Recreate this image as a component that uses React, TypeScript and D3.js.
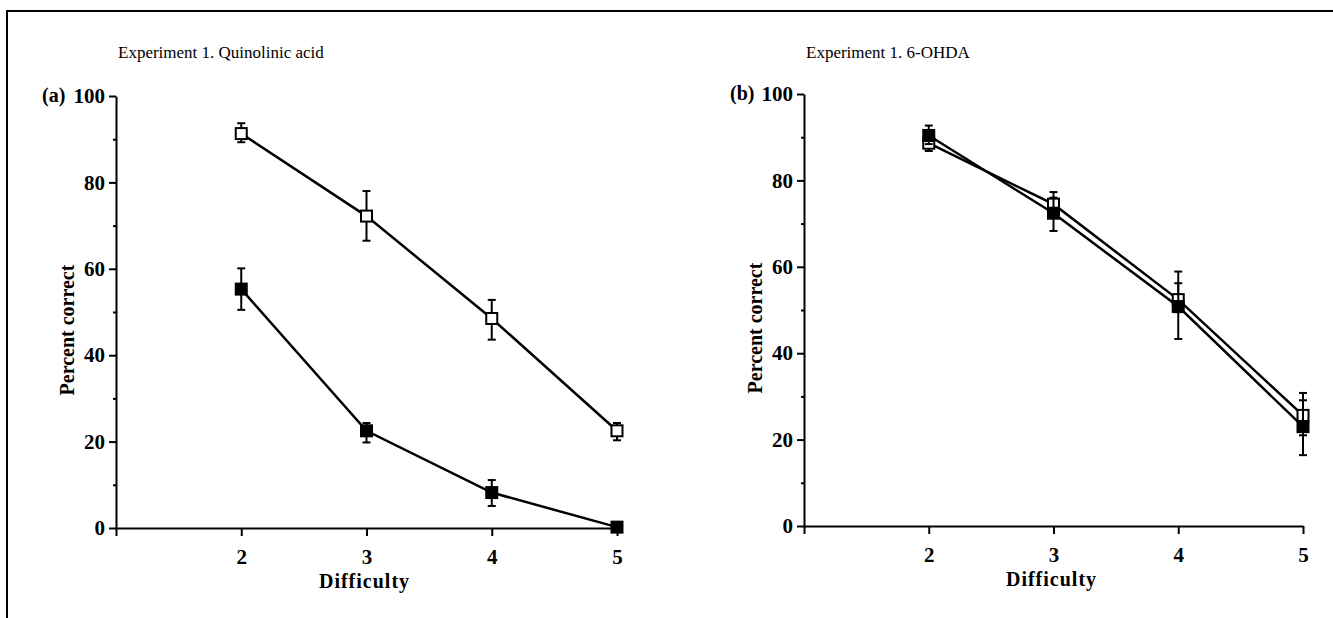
// react
import React, { Component } from 'react';
// d3
import * as d3 from 'd3';

const svgWidth = 1333;
const svgHeight = 618;

const FONT = "'Liberation Serif', 'Times New Roman', serif";

// x: difficulty level, y: percent correct
const DIFFICULTY = [2, 3, 4, 5];
const X_TICKS = [1, 2, 3, 4, 5];
const Y_MAJOR = [0, 20, 40, 60, 80, 100];
const Y_MINOR = [10, 30, 50, 70, 90];

// (a) Quinolinic acid
const qaOpenMean = [91.3, 72.2, 48.5, 22.5];
const qaOpenLow = [89.3, 66.5, 43.6, 20.3];
const qaOpenHigh = [93.7, 78.0, 52.8, 24.3];
const qaFilledMean = [55.3, 22.5, 8.2, 0.2];
const qaFilledLow = [50.5, 19.8, 5.1, 0.2];
const qaFilledHigh = [60.1, 24.3, 11.1, 0.2];

// (b) 6-OHDA
const ohOpenMean = [88.6, 74.5, 52.4, 25.6];
const ohOpenLow = [86.8, 72.5, 49.5, 21.0];
const ohOpenHigh = [91.0, 77.3, 56.2, 30.8];
const ohFilledMean = [90.4, 72.4, 50.8, 23.0];
const ohFilledLow = [88.4, 68.3, 43.3, 16.4];
const ohFilledHigh = [92.7, 76.0, 58.9, 29.1];

const panels = [
    {
        letter: '(a)', title: 'Experiment 1. Quinolinic acid',
        left: 116, right: 617, top: 96, bottom: 528,
        open: { mean: qaOpenMean, low: qaOpenLow, high: qaOpenHigh },
        filled: { mean: qaFilledMean, low: qaFilledLow, high: qaFilledHigh },
    },
    {
        letter: '(b)', title: 'Experiment 1. 6-OHDA',
        left: 804, right: 1303, top: 94, bottom: 526,
        open: { mean: ohOpenMean, low: ohOpenLow, high: ohOpenHigh },
        filled: { mean: ohFilledMean, low: ohFilledLow, high: ohFilledHigh },
    },
];

const translate = (x, y) => 'translate(' + x + ',' + y + ')';

const styleAxis = (ax) => {
    ax.attr('font-family', FONT).attr('font-size', 21).attr('font-weight', 'bold');
    ax.select('.domain').attr('stroke-width', 2);
    ax.selectAll('line').attr('stroke-width', 2);
    ax.selectAll('text').attr('fill', '#000');
};

class App extends Component {
    myRef: any;

    constructor(props) {
        super(props);
        this.myRef = null;
    }

    drawPanel = (svg, p) => {
        const g = svg.append('g').attr('class', 'panel');
        const x = d3.scaleLinear().domain([1, 5]).range([p.left, p.right]);
        const y = d3.scaleLinear().domain([0, 100]).range([p.bottom, p.top]);

        // minor y ticks
        const minor = g.append('g').attr('transform', translate(p.left, 0))
            .call(d3.axisLeft(y).tickValues(Y_MINOR).tickSize(3).tickSizeOuter(0).tickFormat(() => ''));
        minor.select('.domain').remove();
        minor.selectAll('line').attr('stroke-width', 2);

        const yAxis = g.append('g').attr('transform', translate(p.left, 0))
            .call(d3.axisLeft(y).tickValues(Y_MAJOR).tickSize(7).tickSizeOuter(0).tickPadding(4));
        styleAxis(yAxis);

        const xAxis = g.append('g').attr('transform', translate(0, p.bottom))
            .call(d3.axisBottom(x).tickValues(X_TICKS).tickSize(8).tickSizeOuter(0).tickPadding(13)
                .tickFormat(d => (d === 1 ? '' : String(d))));
        styleAxis(xAxis);

        // titles and labels
        g.append('text').attr('x', p.left + 2).attr('y', 58)
            .attr('font-family', FONT).attr('font-size', 17).text(p.title);
        g.append('text').attr('x', p.left - 74).attr('y', y(100) + 6)
            .attr('font-family', FONT).attr('font-size', 20).attr('font-weight', 'bold').text(p.letter);
        g.append('text').attr('transform', translate(p.left - 42, (p.top + p.bottom) / 2 + 18) + ' rotate(-90)')
            .attr('text-anchor', 'middle')
            .attr('font-family', FONT).attr('font-size', 20).attr('font-weight', 'bold').text('Percent correct');
        g.append('text').attr('x', x(3) - 2).attr('y', p.bottom + 60)
            .attr('text-anchor', 'middle').attr('letter-spacing', 1)
            .attr('font-family', FONT).attr('font-size', 20).attr('font-weight', 'bold').text('Difficulty');

        const line = d3.line().x((d, i) => x(DIFFICULTY[i])).y(d => y(d));

        [p.open, p.filled].forEach(s => {
            g.append('path').attr('d', line(s.mean))
                .attr('fill', 'none').attr('stroke', '#000').attr('stroke-width', 2.5);
        });

        const drawSeries = (s, filled) => {
            const err = g.append('g').attr('class', 'err');
            DIFFICULTY.forEach((dx, i) => {
                if (s.high[i] - s.low[i] < 0.5) return;
                err.append('line').attr('x1', x(dx)).attr('x2', x(dx))
                    .attr('y1', y(s.low[i])).attr('y2', y(s.high[i]));
                [s.low[i], s.high[i]].forEach(v => {
                    err.append('line').attr('x1', x(dx) - 4).attr('x2', x(dx) + 4)
                        .attr('y1', y(v)).attr('y2', y(v));
                });
            });
            err.selectAll('line').attr('stroke', '#000').attr('stroke-width', 2);

            g.selectAll(null)
                .data(s.mean)
                .enter()
                .append('rect')
                .attr('x', (d, i) => x(DIFFICULTY[i]) - 5.5)
                .attr('y', d => y(d) - 5.5)
                .attr('width', 11)
                .attr('height', 11)
                .attr('fill', filled ? '#000' : '#fff')
                .attr('stroke', '#000')
                .attr('stroke-width', 2);
        };
        drawSeries(p.open, false);
        drawSeries(p.filled, true);
    }

    componentDidMount() {
        const svg = d3.select(this.myRef);
        svg.append('path').attr('d', 'M7,' + svgHeight + 'V11H' + svgWidth)
            .attr('fill', 'none').attr('stroke', '#000').attr('stroke-width', 2);
        panels.forEach(p => this.drawPanel(svg, p));
    }

    render() {
        return (
            <svg width={svgWidth} height={svgHeight}
                style={{ position: 'absolute', left: 0, top: 0, background: '#fff' }}
                ref={el => this.myRef = el}>
            </svg>
        );
    }
}

export default App;
